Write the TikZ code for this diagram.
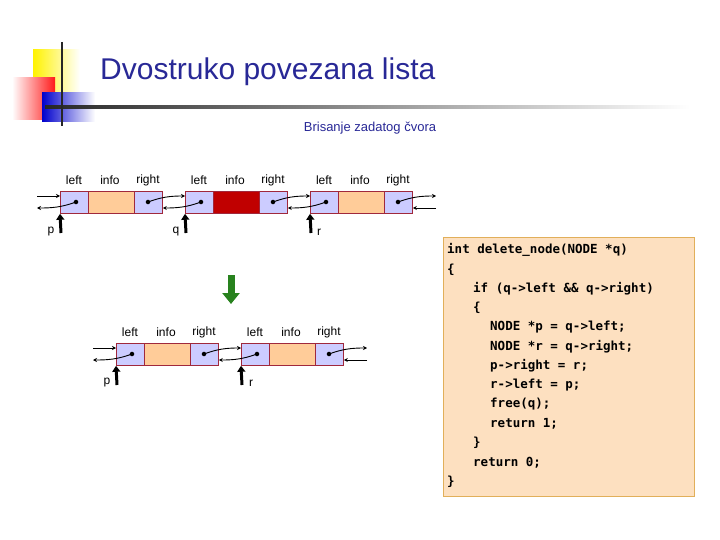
\documentclass[tikz,border=0pt]{standalone}
\usepackage{fontspec}
\setmainfont{Liberation Sans}
\newfontfamily\codefont{DejaVu Sans Mono}
\usetikzlibrary{arrows.meta}
\definecolor{cellb}{RGB}{204,204,255}
\definecolor{cello}{RGB}{255,204,153}
\definecolor{celld}{RGB}{192,0,0}
\definecolor{cellbr}{RGB}{160,40,60}
\definecolor{titleblue}{RGB}{40,40,150}
\definecolor{codebg}{RGB}{253,224,192}
\definecolor{codebd}{RGB}{225,175,90}
\definecolor{arrgreen}{RGB}{40,130,30}
\tikzset{
 cell/.style={draw=cellbr,line width=0.8pt,minimum height=22pt,inner sep=0pt,anchor=north west},
 lbl/.style={font=\fontsize{12}{12}\selectfont,inner sep=0pt},
 ptr/.style={-{Stealth[length=4pt,width=4pt]},line width=0.9pt},
 up/.style={-{Triangle[length=6pt,width=8pt]},line width=3pt},
 dot/.style={circle,fill=black,inner sep=1.6pt},
 code/.style={font=\codefont\bfseries\fontsize{12.5}{12.5}\selectfont,anchor=west,inner sep=0pt}
}
\newcommand{\lnode}[4]{% x, y, name, info colour
 \node[cell,fill=cellb,minimum width=28pt] (#3L) at (#1,#2) {};
 \node[cell,fill=#4,minimum width=46pt] (#3I) at (#1+28,#2) {};
 \node[cell,fill=cellb,minimum width=28pt] (#3R) at (#1+74,#2) {};
 \node[dot] (#3l) at (#1+16,#2+11) {};
 \node[dot] (#3r) at (#1+88,#2+11) {};
 \node[lbl] (#3t1) at (#1+14,#2-11) {left};
 \node[lbl] (#3t2) at (#1+50,#2-11) {info};
 \node[lbl] (#3t3) at (#1+88,#2-11) {right};
}
\begin{document}
\begin{tikzpicture}[x=1pt,y=-1pt]
\useasboundingbox (0,0) rectangle (720,540);
% decoration
\shade[left color=yellow!90!orange,right color=white] (33,50) rectangle (80,98);
\shade[right color=red!90,left color=white] (12,78) rectangle (55,120);
\shade[left color=blue!80!black,right color=white] (42,93) rectangle (95,122);
\shade[left color=black!85,right color=white] (45,106) rectangle (690,109);
\draw[line width=2.5pt,black!85] (62,42) -- (62,126);
\node[text=titleblue,font=\fontsize{30}{30}\selectfont,anchor=west,inner sep=0pt] (title) at (100,72) {Dvostruko povezana lista};
\node[text=titleblue,font=\fontsize{13}{13}\selectfont,inner sep=0pt] (sub) at (370,128) {Brisanje zadatog čvora};
% top list
\lnode{60}{191}{a}{cello}
\lnode{185}{191}{b}{celld}
\lnode{310}{191}{c}{cello}
\coordinate (a0) at (37,196); \coordinate (a1) at (37,208);
\coordinate (c0) at (436,196); \coordinate (c1) at (436,208);
\draw[ptr] (a0) -- (aL.west|-a0);
\draw[ptr] (al.center) to[out=200,in=0] (a1);
\draw[ptr] (ar.center) to[out=20,in=180] (bL.west|-a0);
\draw[ptr] (bl.center) to[out=200,in=0] (aR.east|-a1);
\draw[ptr] (br.center) to[out=20,in=180] (cL.west|-a0);
\draw[ptr] (cl.center) to[out=200,in=0] (bR.east|-a1);
\draw[ptr] (cr.center) to[out=20,in=180] (c0);
\draw[ptr] (c1) -- (cR.east|-c1);
\coordinate (pa) at (61,233); \coordinate (pb) at (186,233); \coordinate (pc) at (311,233);
\draw[up] (pa) -- (aL.south west);
\draw[up] (pb) -- (bL.south west);
\draw[up] (pc) -- (cL.south west);
\node[lbl] (tp) at (51,232) {p};
\node[lbl] (tq) at (176,232) {q};
\node[lbl] (tr) at (319,232) {r};
% green arrow
\coordinate (g0) at (231,275); \coordinate (g1) at (231,304);
\draw[arrgreen,-{Triangle[length=11pt,width=17pt]},line width=7pt] (g0) -- (g1);
% bottom list
\lnode{116}{343}{d}{cello}
\lnode{241}{343}{e}{cello}
\coordinate (d0) at (93,348); \coordinate (d1) at (93,360);
\coordinate (e0) at (367,348); \coordinate (e1) at (367,360);
\draw[ptr] (d0) -- (dL.west|-d0);
\draw[ptr] (dl.center) to[out=200,in=0] (d1);
\draw[ptr] (dr.center) to[out=20,in=180] (eL.west|-d0);
\draw[ptr] (el.center) to[out=200,in=0] (dR.east|-d1);
\draw[ptr] (er.center) to[out=20,in=180] (e0);
\draw[ptr] (e1) -- (eR.east|-e1);
\coordinate (pd) at (117,385); \coordinate (pe) at (242,385);
\draw[up] (pd) -- (dL.south west);
\draw[up] (pe) -- (eL.south west);
\node[lbl] (tp2) at (107,383) {p};
\node[lbl] (tr2) at (251,383) {r};
% code
\node[draw=codebd,fill=codebg,line width=1pt,minimum width=251pt,minimum height=259pt,anchor=north west,inner sep=0pt] (box) at (443,237) {};
\node[code] (k1) at (447,250) {int delete\_node(NODE *q)};
\node[code] (k2) at (447,269.3) {\{};
\node[code] (k3) at (473,288.6) {if (q->left \&\& q->right)};
\node[code] (k4) at (473,307.9) {\{};
\node[code] (k5) at (490,327.2) {NODE *p = q->left;};
\node[code] (k6) at (490,346.5) {NODE *r = q->right;};
\node[code] (k7) at (490,365.8) {p->right = r;};
\node[code] (k8) at (490,385.1) {r->left = p;};
\node[code] (k9) at (490,404.4) {free(q);};
\node[code] (k10) at (490,423.7) {return 1;};
\node[code] (k11) at (473,443) {\}};
\node[code] (k12) at (473,462.3) {return 0;};
\node[code] (k13) at (447,481.6) {\}};
\end{tikzpicture}
\end{document}
